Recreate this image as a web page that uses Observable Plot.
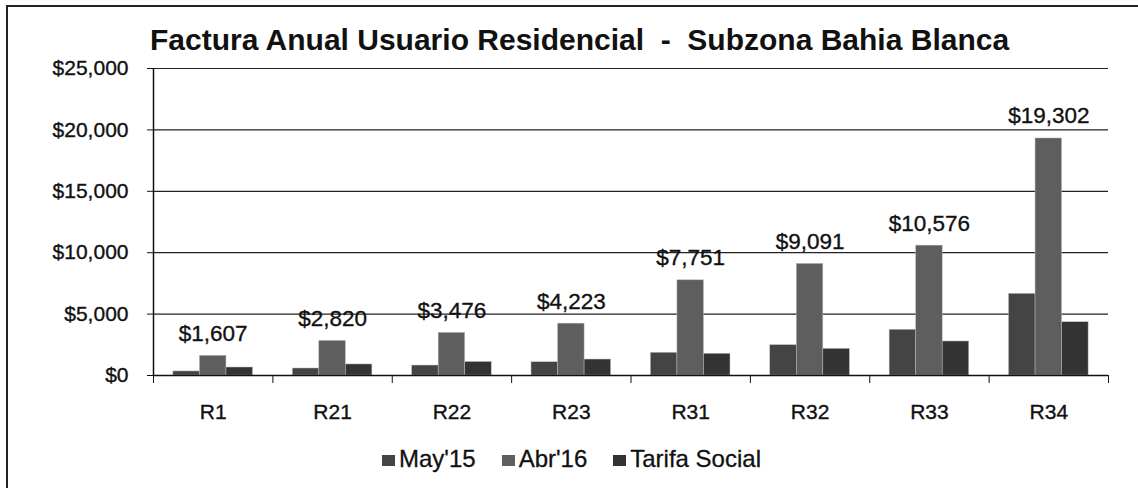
<!DOCTYPE html>
<html><head><meta charset="utf-8">
<script src="https://cdn.jsdelivr.net/npm/d3@7"></script>
<script src="https://cdn.jsdelivr.net/npm/@observablehq/plot@0.6"></script>
<style>
body{margin:0;background:#fff;}
#wrap{position:relative;width:1138px;height:488px;overflow:hidden;font-family:"Liberation Sans",Arial,sans-serif;color:#111;background:#fff;}
#border{position:absolute;left:6px;top:5px;width:1300px;height:700px;border-top:2px solid #222;border-left:2px solid #222;}
#title{position:absolute;left:150px;top:25px;font-size:30px;font-weight:bold;line-height:30px;white-space:pre;}
#chart{position:absolute;left:0;top:0;}
#chart svg text{stroke:#111;stroke-width:0.35px;}
#legend{position:absolute;left:382px;top:447px;display:flex;align-items:center;font-size:24px;line-height:24px;-webkit-text-stroke:0.3px #111;}
#legend .item{display:flex;align-items:center;margin-right:26px;}
#legend .sw{width:13px;height:11px;margin-right:4px;margin-top:2px;}
</style>
</head><body>
<div id="wrap">
  <div id="border"></div>
  <div id="chart"></div>
  <div id="title"></div>
  <div id="legend"></div>
</div>
<script>
const title = "Factura Anual Usuario Residencial  -  Subzona Bahia Blanca";
const categories = ["R1","R21","R22","R23","R31","R32","R33","R34"];
const series = ["May'15","Abr'16","Tarifa Social"];
const may15  = [330, 570, 810, 1080, 1850, 2470, 3720, 6650];
const abr16  = [1607, 2820, 3476, 4223, 7751, 9091, 10576, 19302];
const tarifa = [650, 900, 1100, 1300, 1770, 2170, 2770, 4340];
const yTicks = [0, 5000, 10000, 15000, 20000, 25000];
const colors = ["#444444", "#5e5e5e", "#333333"];

const values = [may15, abr16, tarifa];
const rows = categories.flatMap((c, i) => series.map((s, j) => ({c, i, s, j, v: values[j][i]})));
const gap = 1.5;            // Excel gap width 150%
const slot = series.length + gap;
const fmt = d3.format(",");
const money = d => "$" + fmt(d);

document.getElementById("title").textContent = title;

const chart = Plot.plot({
  width: 1138, height: 488,
  marginLeft: 153, marginRight: 30, marginTop: 68, marginBottom: 113,
  style: {fontFamily: '"Liberation Sans", Arial, sans-serif', fontSize: "20px", color: "#111", background: "transparent", overflow: "visible"},
  x: {domain: [0, categories.length], axis: null, label: null},
  y: {domain: [0, 25000], axis: null, label: null},
  color: {domain: series, range: colors},
  marks: [
    Plot.ruleY(yTicks, {stroke: "#222", strokeWidth: 1.2}),
    Plot.rectY(rows, {
      x1: d => d.i + (gap / 2 + d.j) / slot,
      x2: d => d.i + (gap / 2 + d.j + 1) / slot,
      y1: 0, y2: "v", fill: "s", stroke: "#bbbbbb", strokeWidth: 0.5
    }),
    Plot.ruleX([0], {y1: 0, y2: 25000, stroke: "#111", strokeWidth: 1.5}),
    Plot.ruleY([0], {stroke: "#111", strokeWidth: 1.5}),
    Plot.axisY({ticks: yTicks, tickSize: 6, tickPadding: 19, tickFormat: money, fontSize: 21, stroke: "#111", label: null}),
    Plot.axisX({ticks: d3.range(categories.length + 1), tickSize: 8, tickFormat: () => "", stroke: "#111", label: null}),
    Plot.axisX({ticks: categories.map((c, i) => i + 0.5), tickSize: 0, tickPadding: 29, tickFormat: t => categories[Math.floor(t)], fontSize: 21, label: null}),
    Plot.text(rows.filter(d => d.j === 1), {
      x: d => d.i + (gap / 2 + d.j + 0.5) / slot,
      y: "v", text: d => money(d.v), lineAnchor: "bottom", dy: -15, fontSize: 22.5, fill: "#111"
    })
  ]
});
document.getElementById("chart").appendChild(chart);

const legend = document.getElementById("legend");
series.forEach((s, j) => {
  const item = document.createElement("div");
  item.className = "item";
  const sw = document.createElement("span");
  sw.className = "sw";
  sw.style.background = colors[j];
  const t = document.createElement("span");
  t.textContent = s;
  item.appendChild(sw); item.appendChild(t);
  legend.appendChild(item);
});
</script>
</body></html>
